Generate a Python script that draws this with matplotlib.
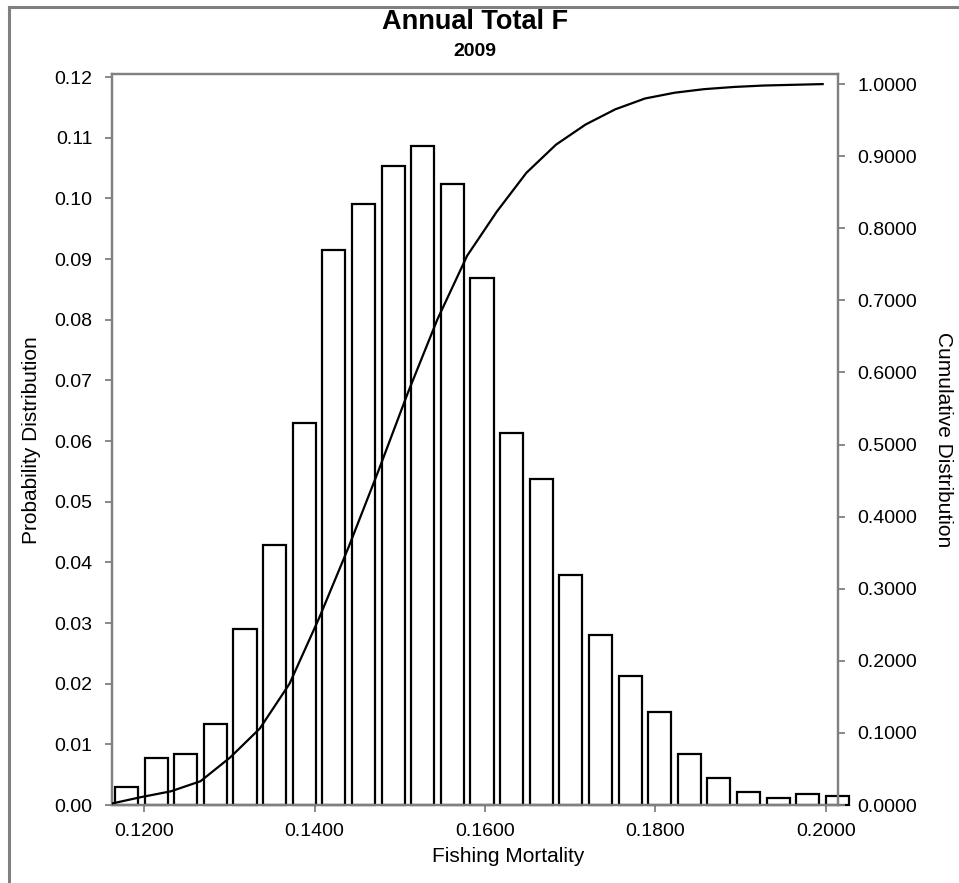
import numpy as np
import matplotlib
matplotlib.use('Agg')
import matplotlib.pyplot as plt
from matplotlib.lines import Line2D

plt.rcParams['font.family'] = ['Liberation Sans', 'DejaVu Sans']

# lower edge of each F bin
bin_lo = [0.11621, 0.11968, 0.12316, 0.12663, 0.13011, 0.13358, 0.13706, 0.14053,
          0.14401, 0.14748, 0.15096, 0.15443, 0.15791, 0.16138, 0.16486, 0.16833,
          0.17181, 0.17528, 0.17876, 0.18223, 0.18571, 0.18918, 0.19266, 0.19613,
          0.19961]
bin_w = 0.003475

# probability per bin (left axis)
prob = [0.0030, 0.0077, 0.0084, 0.0133, 0.0290, 0.0429, 0.0629, 0.0915,
        0.0991, 0.1053, 0.1086, 0.1024, 0.0869, 0.0613, 0.0538, 0.0379,
        0.0281, 0.0212, 0.0153, 0.0084, 0.0045, 0.0021, 0.0012, 0.0018,
        0.0015]

# cumulative curve (right axis), one point per bin lower edge
cum = [0.002, 0.011, 0.019, 0.033, 0.066, 0.106, 0.168, 0.259, 0.358, 0.463,
       0.572, 0.674, 0.762, 0.823, 0.877, 0.916, 0.944, 0.965, 0.980, 0.988,
       0.993, 0.996, 0.998, 0.999, 1.000]

left_ticks = [0.00, 0.01, 0.02, 0.03, 0.04, 0.05, 0.06, 0.07, 0.08, 0.09, 0.10, 0.11, 0.12]
right_ticks = [0.0, 0.1, 0.2, 0.3, 0.4, 0.5, 0.6, 0.7, 0.8, 0.9, 1.0]
x_ticks = [0.12, 0.14, 0.16, 0.18, 0.20]

W, H = 959, 883
fig = plt.figure(figsize=(W / 100, H / 100), dpi=100)
ax = fig.add_axes([112 / W, 1 - 805 / H, (838 - 112) / W, (805 - 74) / H])

grey = '#808080'
ax.bar(np.array(bin_lo) + bin_w / 2, prob, width=0.0027, facecolor='white',
       edgecolor='black', linewidth=1.6, clip_on=False, zorder=2)

ax.set_xlim(0.116246, 0.201408)
ax.set_ylim(0, 0.1205)
ax.set_yticks(left_ticks)
ax.set_yticklabels(['%.2f' % v for v in left_ticks])
ax.set_xticks(x_ticks)
ax.set_xticklabels(['%.4f' % v for v in x_ticks])

ax2 = ax.twinx()
ax2.plot(bin_lo, cum, color='black', linewidth=1.6, zorder=3)
ax2.set_ylim(0, 1.014)
ax2.set_yticks(right_ticks)
ax2.set_yticklabels(['%.4f' % v for v in right_ticks])

for a in (ax, ax2):
    for s in a.spines.values():
        s.set_color(grey)
        s.set_linewidth(1.6)
    a.tick_params(colors=grey, labelcolor='black', labelsize=14, width=1.3, length=5)
ax.tick_params(axis='y', pad=9)
ax.tick_params(axis='x', pad=8)
ax2.tick_params(axis='y', pad=9)

fig.text(475 / W, 1 - 22 / H, 'Annual Total F', ha='center', va='center',
         fontsize=19.5, fontweight='bold')
fig.text(475 / W, 1 - 52 / H, '2009', ha='center', va='center',
         fontsize=14, fontweight='bold')
fig.text(508 / W, 1 - 857 / H, 'Fishing Mortality', ha='center', va='center', fontsize=15)
fig.text(32 / W, 1 - 440 / H, 'Probability Distribution', ha='center', va='center',
         rotation=90, fontsize=15)
fig.text(943 / W, 1 - 440 / H, 'Cumulative Distribution', ha='center', va='center',
         rotation=270, fontsize=15)

# outer frame (top and left edges only show in the picture)
fig.add_artist(Line2D([9 / W, 1], [1 - 7 / H, 1 - 7 / H], color=grey, linewidth=2.2))
fig.add_artist(Line2D([9 / W, 9 / W], [0, 1 - 7 / H], color=grey, linewidth=2.2))

fig.savefig('out.png', dpi=100)
